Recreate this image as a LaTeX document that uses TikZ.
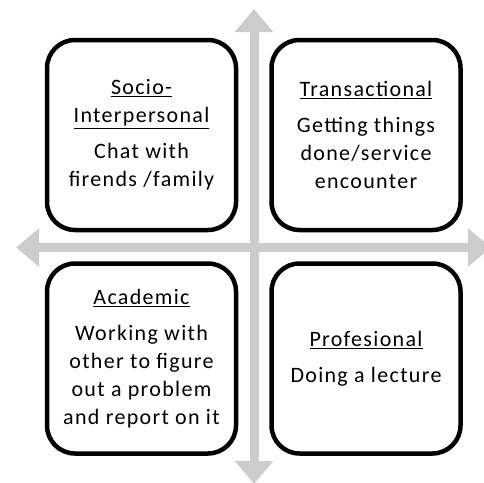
\documentclass[tikz,border=0pt]{standalone}
\usepackage{fontspec}
\setmainfont{Carlito}[LetterSpace=6]
\usepackage{tikz}
\usetikzlibrary{arrows.meta}

\begin{document}
\begin{tikzpicture}[x=1pt, y=-1pt,
        axis arrow/.style={line width=9pt, draw=gray!40, {Triangle[length=23pt,width=37pt]}-{Triangle[length=23pt,width=37pt]}},
        quad node/.style={rectangle, rounded corners=28pt, draw, line width=4.5pt, minimum width=189pt, minimum height=190pt, align=center, font=\fontsize{22}{28}\selectfont}]

    \useasboundingbox (0,0) rectangle (484,482);

    % Osie
    \coordinate (top) at (254,9);
    \coordinate (bottom) at (254,484);
    \coordinate (left) at (16,247.5);
    \coordinate (right) at (491,247.5);
    \draw[axis arrow] (top) -- (bottom);
    \draw[axis arrow] (left) -- (right);

    % Pola
    \node[quad node] (socio) at (141.5,135) {\underline{Socio-}\\\underline{Interpersonal}\\[8pt]Chat with\\firends /family};
    \node[quad node] (trans) at (366,135) {\underline{Transactional}\\[8pt]Getting things\\done/service\\encounter};
    \node[quad node] (acad) at (141.5,358.5) {\underline{Academic}\\[8pt]Working with\\other to figure\\out a problem\\and report on it};
    \node[quad node] (prof) at (366,358.5) {\underline{Profesional}\\[8pt]Doing a lecture};
\end{tikzpicture}
\end{document}
